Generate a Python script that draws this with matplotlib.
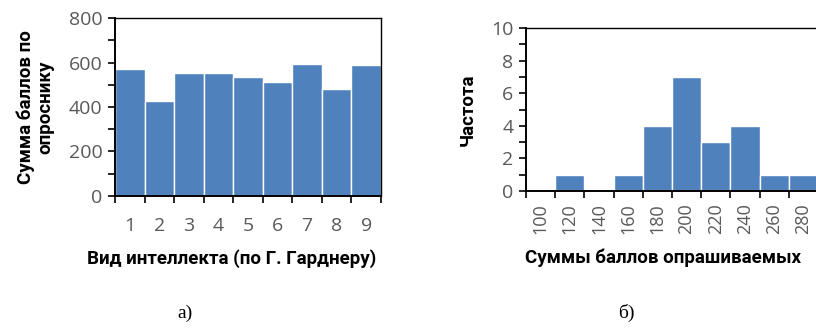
import numpy as np
import matplotlib; matplotlib.use("Agg")
import matplotlib.pyplot as plt
from matplotlib.ticker import MultipleLocator, FixedLocator

# (а) сумма баллов по видам интеллекта
kinds = ["1", "2", "3", "4", "5", "6", "7", "8", "9"]
scores = [569, 427, 553, 553, 537, 512, 593, 482, 588]
# (б) гистограмма сумм баллов
bin_labels = ["100", "120", "140", "160", "180", "200", "220", "240", "260", "280"]
freq = [0, 1, 0, 1, 4, 7, 3, 4, 1, 1]

BLUE = "#4F81BD"; GRAY = "#595959"
plt.rcParams["font.family"] = ["Open Sans", "DejaVu Sans"]
LAB = dict(fontsize=13.5, fontweight="bold", family=["Roboto", "DejaVu Sans"])

W, H = 816, 331
fig = plt.figure(figsize=(W/100, H/100), dpi=100)
def box(x0, y0, x1, y1): return [x0/W, 1-y1/H, (x1-x0)/W, (y1-y0)/H]

def style(ax, ymax, major, minor):
    ax.set_ylim(0, ymax)
    ax.yaxis.set_major_locator(MultipleLocator(major)); ax.yaxis.set_minor_locator(MultipleLocator(minor))
    for s in ("left", "bottom"): ax.spines[s].set_linewidth(1.4)
    for s in ("top", "right"): ax.spines[s].set_linewidth(1.0)
    ax.tick_params(axis="y", which="both", direction="out", length=5, width=1.2, labelsize=14, labelcolor=GRAY, pad=4)
    ax.tick_params(axis="x", which="major", direction="out", length=5, width=1.2, labelbottom=False)
    ax.tick_params(axis="x", which="minor", length=0, labelsize=14, labelcolor=GRAY)

# ---- a ----
ax = fig.add_axes(box(115, 18, 381, 196))
x = np.arange(len(kinds))
ax.bar(x, scores, width=1.0, color=BLUE, edgecolor="white", linewidth=1.0)
ax.set_xlim(-0.5, len(kinds) - 0.5)
style(ax, 800, 200, 100)
ax.xaxis.set_major_locator(FixedLocator(np.arange(len(kinds) + 1) - 0.5))
ax.xaxis.set_minor_locator(FixedLocator(x)); ax.set_xticklabels(kinds, minor=True)
ax.tick_params(axis="x", which="minor", pad=15)
ax.set_xlabel("Вид интеллекта (по Г. Гарднеру)", labelpad=10, **LAB)
ax.xaxis.label.set_x(0.44)
ax.set_ylabel("Сумма баллов по\nопроснику", labelpad=10, linespacing=1.1, **LAB)

# ---- б ----
ax2 = fig.add_axes(box(526, 28, 818, 191))
x2 = np.arange(len(bin_labels))
ax2.bar(x2, freq, width=1.0, color=BLUE, edgecolor="white", linewidth=1.0)
ax2.set_xlim(-0.5, len(bin_labels) - 0.5)
style(ax2, 10, 2, 1)
ax2.xaxis.set_major_locator(FixedLocator(np.arange(len(bin_labels) + 1) - 0.5))
ax2.xaxis.set_minor_locator(FixedLocator(x2)); ax2.set_xticklabels(bin_labels, minor=True, rotation=90)
ax2.tick_params(axis="x", which="minor", pad=9, labelsize=13)
ax2.spines["right"].set_visible(False)
ax2.set_xlabel("Суммы баллов опрашиваемых", labelpad=10, **LAB)
ax2.xaxis.label.set_x(0.47)
ax2.set_ylabel("Частота", labelpad=10, **LAB)

fig.text(185/W, 1-313/H, "а)", ha="center", va="center", fontsize=14, family="Liberation Serif")
fig.text(626/W, 1-313/H, "б)", ha="center", va="center", fontsize=14, family="Liberation Serif")

fig.savefig("out.png", dpi=100)
